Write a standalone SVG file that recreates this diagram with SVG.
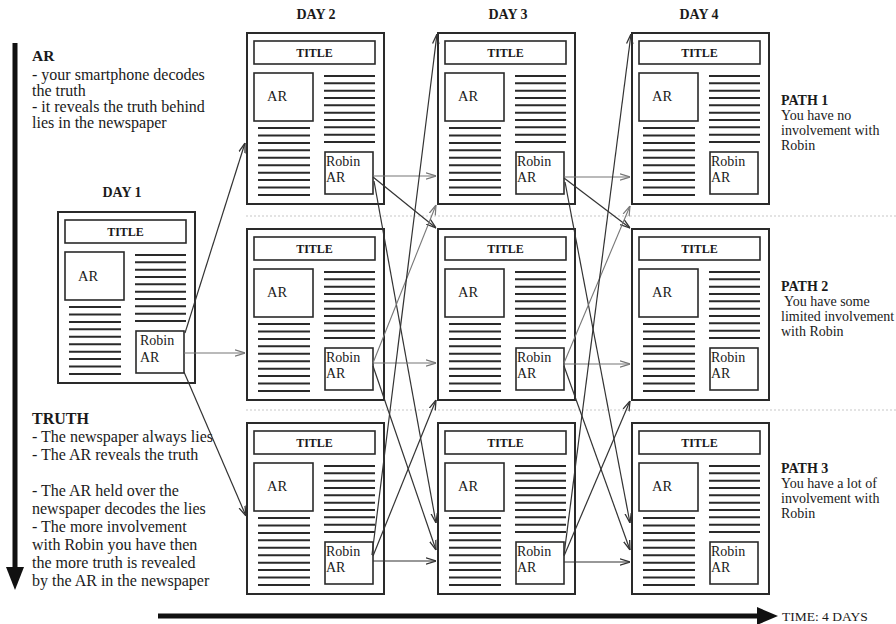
<svg xmlns="http://www.w3.org/2000/svg" xmlns:xlink="http://www.w3.org/1999/xlink" width="896" height="624" viewBox="0 0 896 624">
<style>
  .t{font-family:"Liberation Serif","Times New Roman",serif;fill:#1a1a1a}
  .note{font-size:16px}
  .hd{font-weight:bold}
  .day{font-size:14px;font-weight:bold;text-anchor:middle}
  .ttl{font-size:12px;font-weight:bold;text-anchor:middle}
  .in{font-size:14px}
  .ar{font-size:14.5px}
  .path{font-size:14px}
  .box{fill:#fff;stroke:#2a2a2a;stroke-width:2}
  .ib{fill:#fff;stroke:#2a2a2a;stroke-width:1.6}
  .ln{stroke:#2a2a2a;stroke-width:2;fill:none}
  .c{stroke:#333;stroke-width:1.2;fill:none;marker-end:url(#ah)}
  .cl{stroke:#777;stroke-width:1.1;fill:none;marker-end:url(#ahl)}
  .sep{stroke:#c8c8c8;stroke-width:1.2;stroke-dasharray:2 2}
</style>
<defs>
  <marker id="ah" viewBox="0 0 10 8" refX="10" refY="4" markerWidth="10" markerHeight="8" markerUnits="userSpaceOnUse" orient="auto">
    <path d="M0,0.8 L10,4 L0,7.2" fill="none" stroke="#333" stroke-width="1.3"/>
  </marker>
  <marker id="ahl" viewBox="0 0 10 8" refX="10" refY="4" markerWidth="10" markerHeight="8" markerUnits="userSpaceOnUse" orient="auto">
    <path d="M0,0.8 L10,4 L0,7.2" fill="none" stroke="#777" stroke-width="1.2"/>
  </marker>
  <g id="paper">
    <rect class="box" x="0" y="0" width="137" height="171"/>
    <rect class="ib" x="7" y="8" width="121" height="23"/>
    <rect class="ib" x="7" y="40" width="59" height="48"/>
    <rect class="ib" x="78" y="119" width="48" height="42"/>
    <path class="ln" d="M77,43h51M77,50.3h51M77,57.7h51M77,65h51M77,72.3h51M77,79.7h51M77,87h51M77,94.3h51M77,101.7h51M77,109h51"/>
    <path class="ln" d="M11,95h52M11,102.4h52M11,109.9h52M11,117.3h52M11,124.8h52M11,132.2h52M11,139.7h52M11,147.1h52M11,154.6h52M11,162h52"/>
  </g>
</defs>
<rect width="896" height="624" fill="#fff"/>

<!-- faint separators -->
<g id="separators">
  <line class="sep" x1="246" y1="216" x2="896" y2="216"/>
  <line class="sep" x1="246" y1="410" x2="896" y2="410"/>
</g>

<!-- left vertical arrow -->
<g id="arrow-vertical">
  <line x1="15" y1="43" x2="15" y2="570" stroke="#111" stroke-width="5"/>
  <polygon points="6,567 24,567 15,590" fill="#111"/>
</g>

<!-- bottom time arrow -->
<g id="arrow-time">
  <line x1="158" y1="616" x2="760" y2="616" stroke="#111" stroke-width="5"/>
  <polygon points="757,607 757,625 778,616" fill="#111"/>
  <text class="t" x="782" y="621" font-size="13.5">TIME: 4 DAYS</text>
</g>

<!-- text blocks -->
<g id="note-ar">
  <text class="t hd" x="32" y="61" font-size="15.5">AR</text>
  <text class="t note" x="32" y="80">- your smartphone decodes</text>
  <text class="t note" x="32" y="96">the truth</text>
  <text class="t note" x="32" y="112">- it reveals the truth behind</text>
  <text class="t note" x="32" y="128">lies in the newspaper</text>
</g>
<g id="note-truth">
  <text class="t hd" x="32" y="424" font-size="16">TRUTH</text>
  <text class="t note" x="32" y="442">- The newspaper always lies</text>
  <text class="t note" x="32" y="460">- The AR reveals the truth</text>
  <text class="t note" x="32" y="496">- The AR held over the</text>
  <text class="t note" x="32" y="514">newspaper decodes the lies</text>
  <text class="t note" x="32" y="532">- The more involvement</text>
  <text class="t note" x="32" y="550">with Robin you have then</text>
  <text class="t note" x="32" y="568">the more truth is revealed</text>
  <text class="t note" x="32" y="586">by the AR in the newspaper</text>
</g>

<!-- day labels -->
<g id="day-labels">
  <text class="t day" x="122" y="197">DAY 1</text>
  <text class="t day" x="316" y="19">DAY 2</text>
  <text class="t day" x="508" y="19">DAY 3</text>
  <text class="t day" x="699" y="19">DAY 4</text>
</g>

<!-- path labels -->
<g id="path-labels">
  <text class="t path" x="781" y="105" font-weight="bold">PATH 1</text>
  <text class="t path" x="781" y="120">You have no</text>
  <text class="t path" x="781" y="135">involvement with</text>
  <text class="t path" x="781" y="150">Robin</text>
  <text class="t path" x="781" y="291" font-weight="bold">PATH 2</text>
  <text class="t path" x="784" y="306">You have some</text>
  <text class="t path" x="781" y="321">limited involvement</text>
  <text class="t path" x="781" y="336">with Robin</text>
  <text class="t path" x="781" y="473" font-weight="bold">PATH 3</text>
  <text class="t path" x="781" y="488">You have a lot of</text>
  <text class="t path" x="781" y="503">involvement with</text>
  <text class="t path" x="781" y="518">Robin</text>
</g>

<!-- newspapers -->
<g id="day1">
  <use xlink:href="#paper" x="58" y="212"/>
  <text class="t ttl" x="125.5" y="236">TITLE</text>
  <text class="t ar" x="78" y="281">AR</text>
  <text class="t in" x="140" y="345">Robin</text>
  <text class="t in" x="140" y="362">AR</text>
</g>
<g id="day2-top">
  <use xlink:href="#paper" x="247" y="33"/>
  <text class="t ttl" x="314.5" y="57">TITLE</text>
  <text class="t ar" x="267" y="101">AR</text>
  <text class="t in" x="326" y="166">Robin</text>
  <text class="t in" x="326" y="182">AR</text>
</g>
<g id="day2-mid">
  <use xlink:href="#paper" x="247" y="229"/>
  <text class="t ttl" x="314.5" y="253">TITLE</text>
  <text class="t ar" x="267" y="297">AR</text>
  <text class="t in" x="326" y="362">Robin</text>
  <text class="t in" x="326" y="378">AR</text>
</g>
<g id="day2-bot">
  <use xlink:href="#paper" x="247" y="423"/>
  <text class="t ttl" x="314.5" y="447">TITLE</text>
  <text class="t ar" x="267" y="491">AR</text>
  <text class="t in" x="326" y="556">Robin</text>
  <text class="t in" x="326" y="572">AR</text>
</g>
<g id="day3-top">
  <use xlink:href="#paper" x="438" y="33"/>
  <text class="t ttl" x="505.5" y="57">TITLE</text>
  <text class="t ar" x="458" y="101">AR</text>
  <text class="t in" x="517" y="166">Robin</text>
  <text class="t in" x="517" y="182">AR</text>
</g>
<g id="day3-mid">
  <use xlink:href="#paper" x="438" y="229"/>
  <text class="t ttl" x="505.5" y="253">TITLE</text>
  <text class="t ar" x="458" y="297">AR</text>
  <text class="t in" x="517" y="362">Robin</text>
  <text class="t in" x="517" y="378">AR</text>
</g>
<g id="day3-bot">
  <use xlink:href="#paper" x="438" y="423"/>
  <text class="t ttl" x="505.5" y="447">TITLE</text>
  <text class="t ar" x="458" y="491">AR</text>
  <text class="t in" x="517" y="556">Robin</text>
  <text class="t in" x="517" y="572">AR</text>
</g>
<g id="day4-top">
  <use xlink:href="#paper" x="632" y="33"/>
  <text class="t ttl" x="699.5" y="57">TITLE</text>
  <text class="t ar" x="652" y="101">AR</text>
  <text class="t in" x="711" y="166">Robin</text>
  <text class="t in" x="711" y="182">AR</text>
</g>
<g id="day4-mid">
  <use xlink:href="#paper" x="632" y="229"/>
  <text class="t ttl" x="699.5" y="253">TITLE</text>
  <text class="t ar" x="652" y="297">AR</text>
  <text class="t in" x="711" y="362">Robin</text>
  <text class="t in" x="711" y="378">AR</text>
</g>
<g id="day4-bot">
  <use xlink:href="#paper" x="632" y="423"/>
  <text class="t ttl" x="699.5" y="447">TITLE</text>
  <text class="t ar" x="652" y="491">AR</text>
  <text class="t in" x="711" y="556">Robin</text>
  <text class="t in" x="711" y="572">AR</text>
</g>

<!-- connectors -->
<g id="connectors">
  <!-- day1 -> day2 -->
  <line class="c" x1="185" y1="333" x2="245" y2="143"/>
  <line class="cl" x1="184" y1="353" x2="245" y2="353"/>
  <line class="c" x1="184" y1="372" x2="246" y2="516"/>
  <!-- day2 -> day3 -->
  <line class="cl" x1="373" y1="176" x2="436" y2="176"/>
  <line class="c" x1="373" y1="177" x2="436" y2="228"/>
  <line class="c" x1="374" y1="181" x2="436" y2="523"/>
  <line class="cl" x1="373" y1="363" x2="436" y2="205"/>
  <line class="cl" x1="373" y1="363" x2="436" y2="363"/>
  <line class="c" x1="373" y1="366" x2="436" y2="550"/>
  <line class="c" x1="372" y1="555" x2="437" y2="34"/>
  <line class="c" x1="373" y1="556" x2="436" y2="400"/>
  <line class="c" x1="373" y1="561" x2="436" y2="561"/>
  <!-- day3 -> day4 -->
  <line class="cl" x1="564" y1="177" x2="630" y2="177"/>
  <line class="c" x1="564" y1="178" x2="630" y2="228"/>
  <line class="c" x1="565" y1="182" x2="630" y2="523"/>
  <line class="cl" x1="564" y1="363" x2="630" y2="206"/>
  <line class="cl" x1="564" y1="364" x2="630" y2="364"/>
  <line class="c" x1="564" y1="366" x2="630" y2="550"/>
  <line class="c" x1="564" y1="555" x2="631" y2="34"/>
  <line class="c" x1="564" y1="556" x2="630" y2="401"/>
  <line class="c" x1="564" y1="562" x2="630" y2="562"/>
</g>
</svg>
